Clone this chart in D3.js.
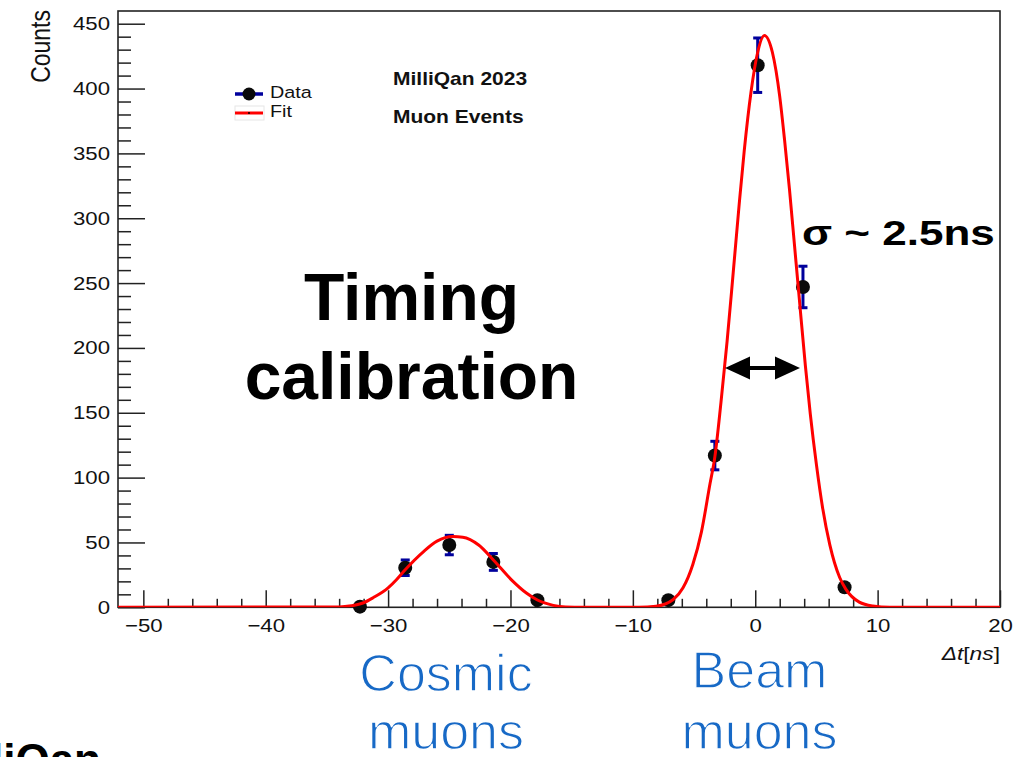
<!DOCTYPE html>
<html>
<head>
<meta charset="utf-8">
<script src="https://cdn.jsdelivr.net/npm/d3@7"></script>
<style>
  body { margin: 0; background: #fff; }
  svg { display: block; }
  text { font-family: "Liberation Sans", Arial, Helvetica, sans-serif; }
</style>
</head>
<body>
<svg id="chart" width="1028" height="757"></svg>
<script>
// measured data points (bin centres in ns, counts, error)
const binCenters = [-32.3, -28.6, -25.0, -21.4, -17.8, -7.1, -3.3, 0.2, 3.9, 7.3];
const counts     = [0.5, 30.5, 48, 35, 5.5, 5.5, 117, 418, 247, 15.5];
const countErrs  = [1, 6, 7.5, 6.5, 2.5, 2.5, 11, 21, 16, 4];

// fit curve
const fitT = [-52.1, -34, -33, -32, -31.2, -30, -29.3, -28.6, -27.1, -26, -24.7, -23.9, -22.6, -21.4, -19.9, -18.7, -17.8, -16.5, -15.5, -14,
              -9.5, -8.1, -6.7, -5.9, -5.1, -4.4, -3.7, -3.3, -2.8, -2.3, -1.8, -1.3, -0.9, -0.35, 0.2, 0.75, 1.4, 2.0, 2.4, 2.8,
              3.2, 3.6, 4.1, 4.5, 5.0, 5.5, 6.1, 6.9, 7.4, 8.5, 9.6, 11, 20];
const fitCounts = [0, 0.3, 1.2, 3.5, 7.5, 15, 21.5, 29, 43, 51, 54.5, 54, 48, 36.5, 21, 11, 5.6, 1.5, 0.3, 0,
                   0, 0.8, 6, 15, 33, 58, 95, 116, 158, 205, 258, 312, 352, 397, 428, 441, 428, 394, 360, 322,
                   280, 238, 186, 149, 110, 77, 48, 23, 14, 4, 1, 0, 0];

const xTickVals = [-50, -40, -30, -20, -10, 0, 10, 20];
const yTickVals = [0, 50, 100, 150, 200, 250, 300, 350, 400, 450];

const SX = 1.2; // the ROOT canvas text is a bit stretched sideways

const svg = d3.select("#chart");
const frame = { left: 118, right: 1000, top: 11, bottom: 607.3 };

const x = d3.scaleLinear().domain([-52.07, 20]).range([frame.left, frame.right]);
const y = d3.scaleLinear().domain([0, 459.8]).range([frame.bottom, frame.top]);

svg.append("rect").attr("width", 1028).attr("height", 757).attr("fill", "#fff");

svg.append("clipPath").attr("id", "clip")
  .append("rect")
  .attr("x", frame.left).attr("y", frame.top)
  .attr("width", frame.right - frame.left).attr("height", frame.bottom - frame.top);

// x axis: majors, minors
const xMinor = d3.range(-50, 20.1, 2).filter(v => !xTickVals.includes(v));
svg.append("g")
  .attr("transform", `translate(0,${frame.bottom})`)
  .call(d3.axisBottom(x).tickValues(xMinor).tickSizeInner(-8.5).tickSizeOuter(0).tickFormat(""))
  .call(g => g.select(".domain").remove());
const gx = svg.append("g")
  .attr("transform", `translate(0,${frame.bottom})`)
  .call(d3.axisBottom(x).tickValues(xTickVals).tickSizeInner(-17).tickSizeOuter(0).tickPadding(12));
gx.select(".domain").remove();
gx.selectAll("text")
  .attr("font-size", 18.5).attr("font-family", "Liberation Sans, Arial, sans-serif")
  .attr("fill", "#111").attr("transform", `scale(${SX},1)`);

// y axis
const yMinor = d3.range(0, 459, 10).filter(v => !yTickVals.includes(v));
svg.append("g")
  .attr("transform", `translate(${frame.left},0)`)
  .call(d3.axisLeft(y).tickValues(yMinor).tickSizeInner(-13).tickSizeOuter(0).tickFormat(""))
  .call(g => g.select(".domain").remove());
const gy = svg.append("g")
  .attr("transform", `translate(${frame.left},0)`)
  .call(d3.axisLeft(y).tickValues(yTickVals).tickSizeInner(-27).tickSizeOuter(0).tickPadding(6.7));
gy.select(".domain").remove();
gy.selectAll("text")
  .attr("font-size", 18.5).attr("font-family", "Liberation Sans, Arial, sans-serif")
  .attr("fill", "#111").attr("transform", `scale(${SX},1)`);

svg.selectAll(".tick line").attr("stroke", "#222").attr("stroke-width", 1.5);

// frame
svg.append("rect")
  .attr("x", frame.left).attr("y", frame.top)
  .attr("width", frame.right - frame.left).attr("height", frame.bottom - frame.top)
  .attr("fill", "none").attr("stroke", "#222").attr("stroke-width", 1.6);

// axis titles
svg.append("text")
  .attr("transform", `translate(50,10) scale(${SX},1) rotate(-90)`)
  .attr("text-anchor", "end").attr("font-size", 23).attr("fill", "#111")
  .text("Counts");

const xt = svg.append("text")
  .attr("transform", `translate(1000,660) scale(${SX},1)`)
  .attr("text-anchor", "end").attr("font-size", 19).attr("fill", "#111");
xt.append("tspan").attr("font-style", "italic").text("Δt");
xt.append("tspan").text("[");
xt.append("tspan").attr("font-style", "italic").text("ns");
xt.append("tspan").text("]");

// data: error bars then markers
const pts = binCenters.map((t, i) => ({ t, c: counts[i], e: countErrs[i] }));
const blue = "#00009c";
const eb = svg.append("g").attr("stroke", blue).attr("stroke-width", 3);
eb.selectAll(".bar").data(pts).join("line")
  .attr("x1", d => x(d.t)).attr("x2", d => x(d.t))
  .attr("y1", d => y(d.c + d.e)).attr("y2", d => y(Math.max(d.c - d.e, 0)));
eb.selectAll(".capTop").data(pts.filter(d => d.e > 4)).join("line")
  .attr("x1", d => x(d.t) - 4.5).attr("x2", d => x(d.t) + 4.5)
  .attr("y1", d => y(d.c + d.e)).attr("y2", d => y(d.c + d.e));
eb.selectAll(".capBot").data(pts.filter(d => d.e > 4)).join("line")
  .attr("x1", d => x(d.t) - 4.5).attr("x2", d => x(d.t) + 4.5)
  .attr("y1", d => y(d.c - d.e)).attr("y2", d => y(d.c - d.e));

svg.append("g").selectAll("circle").data(pts).join("circle")
  .attr("cx", d => x(d.t)).attr("cy", d => y(d.c)).attr("r", 7)
  .attr("fill", "#0a0a0a");

// fit curve
const fitPts = fitT.map((t, i) => [t, fitCounts[i]]);
svg.append("path")
  .datum(fitPts)
  .attr("clip-path", "url(#clip)")
  .attr("fill", "none").attr("stroke", "#ff0000").attr("stroke-width", 3)
  .attr("d", d3.line().x(d => x(d[0])).y(d => y(d[1])).curve(d3.curveMonotoneX));

// legend
const leg = svg.append("g");
leg.append("rect").attr("x", 235).attr("y", 106).attr("width", 29).attr("height", 14)
  .attr("fill", "none").attr("stroke", "#e6e6e6").attr("stroke-width", 1);
leg.append("line").attr("x1", 235).attr("x2", 263).attr("y1", 94).attr("y2", 94)
  .attr("stroke", blue).attr("stroke-width", 3.5);
leg.append("circle").attr("cx", 249).attr("cy", 94).attr("r", 6.5).attr("fill", "#0a0a0a");
leg.append("line").attr("x1", 235).attr("x2", 263).attr("y1", 113).attr("y2", 113)
  .attr("stroke", "#ff0000").attr("stroke-width", 3);
leg.append("circle").attr("cx", 249).attr("cy", 113).attr("r", 1).attr("fill", "#000");
leg.append("text").attr("transform", `translate(270,97.5) scale(${SX},1)`)
  .attr("font-size", 16.5).attr("fill", "#111").text("Data");
leg.append("text").attr("transform", `translate(270,117) scale(${SX},1)`)
  .attr("font-size", 16.5).attr("fill", "#111").text("Fit");

svg.append("text").attr("transform", `translate(393,85) scale(${SX},1)`)
  .attr("font-size", 17.5).attr("font-weight", "bold").attr("fill", "#111").text("MilliQan 2023");
svg.append("text").attr("transform", `translate(393,122.5) scale(${SX},1)`)
  .attr("font-size", 17.5).attr("font-weight", "bold").attr("fill", "#111").text("Muon Events");

// annotations
svg.append("text").attr("x", 411.5).attr("y", 320).attr("text-anchor", "middle")
  .attr("font-size", 66).attr("font-weight", "bold").attr("fill", "#000").text("Timing");
svg.append("text").attr("x", 411.5).attr("y", 399).attr("text-anchor", "middle")
  .attr("font-size", 66).attr("font-weight", "bold").attr("fill", "#000").text("calibration");

svg.append("text").attr("transform", `translate(802,245) scale(1.24,1)`)
  .attr("font-size", 35.5).attr("font-weight", "bold").attr("fill", "#000").text("σ ~ 2.5ns");

// double arrow
const ay = 368;
svg.append("line").attr("x1", 735).attr("x2", 790).attr("y1", ay).attr("y2", ay)
  .attr("stroke", "#000").attr("stroke-width", 4);
svg.append("path").attr("d", `M725,${ay} L750,${ay - 11.5} L750,${ay + 11.5} Z`).attr("fill", "#000");
svg.append("path").attr("d", `M800,${ay} L775,${ay - 11.5} L775,${ay + 11.5} Z`).attr("fill", "#000");

// light-weight blue labels (thin white outline trims the strokes)
const lblBlue = "#1769c6";
[["Cosmic", 446, 690.5], ["muons", 446, 749], ["Beam", 759.5, 688.3], ["muons", 759.5, 749]].forEach(([s, cx, by]) => {
  svg.append("text").attr("x", cx).attr("y", by).attr("text-anchor", "middle")
    .attr("font-size", 52).attr("fill", lblBlue)
    .attr("stroke", "#fff").attr("stroke-width", 1.3).attr("paint-order", "fill")
    .text(s);
});

svg.append("text").attr("x", 101).attr("y", 775).attr("text-anchor", "end")
  .attr("font-size", 44).attr("font-weight", "bold").attr("fill", "#000").text("MilliQan");
</script>
</body>
</html>
